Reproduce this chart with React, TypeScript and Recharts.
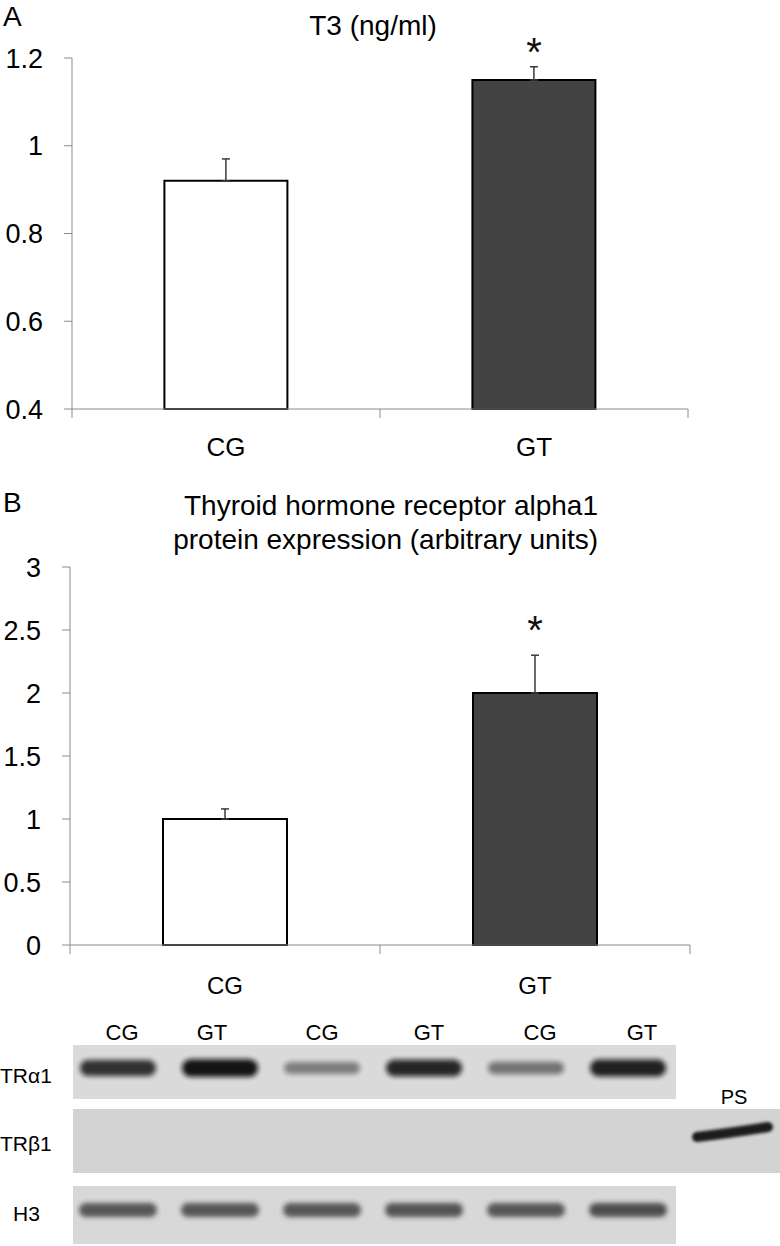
import { ComposedChart, Bar, Scatter, XAxis, YAxis, ErrorBar, Cell } from 'recharts';

// bar chart values
const groups = ['CG', 'GT'];
const barFills = ['#ffffff', '#434343'];

const t3Values = [0.92, 1.15];
const t3Errors = [0.05, 0.03];
const t3Significant = [false, true];
const t3Ticks = [0.4, 0.6, 0.8, 1, 1.2];

const tra1Values = [1.0, 2.0];
const tra1Errors = [0.08, 0.3];
const tra1Significant = [false, true];
const tra1Ticks = [0, 0.5, 1, 1.5, 2, 2.5, 3];

// western blot lanes (relative band darkness, 0..1)
const blotLanes = ['CG', 'GT', 'CG', 'GT', 'CG', 'GT'];
const tra1BandDarkness = [0.82, 0.97, 0.45, 0.88, 0.5, 0.9];
const h3BandDarkness = [0.74, 0.74, 0.74, 0.76, 0.74, 0.8];

const FONT = '"Liberation Sans", Arial, sans-serif';
const AXIS_GREY = '#8c8c8c';

// star sits on top of the error whisker; only drawn where sig is true
const buildRows = (values: number[], errors: number[], sig: boolean[]) =>
  groups.map((g, i) => ({
    group: g,
    value: values[i],
    err: [0, errors[i]],
    star: values[i] + errors[i],
    sig: sig[i],
  }));

function CategoryTick(props: any) {
  const { x, y, payload, index, bandHalf, labelDrop, fontSize } = props;
  const half = typeof payload?.offset === 'number' && payload.offset > 0 ? payload.offset : bandHalf;
  const top = y - 9;
  return (
    <g>
      <line x1={x - half} x2={x - half} y1={top} y2={y} stroke={AXIS_GREY} strokeWidth={1} />
      {index === groups.length - 1 && (
        <line x1={x + half} x2={x + half} y1={top} y2={y} stroke={AXIS_GREY} strokeWidth={1} />
      )}
      <text x={x} y={top + labelDrop} textAnchor="middle" dominantBaseline="central" fontSize={fontSize} fontFamily={FONT} fill="#000">
        {payload.value}
      </text>
    </g>
  );
}

function Star(props: any) {
  const { cx, cy, payload, gap } = props;
  if (!payload?.sig || !Number.isFinite(cx) || !Number.isFinite(cy)) return <g />;
  return (
    <text x={cx} y={cy - gap + 23} textAnchor="middle" fontSize={40} fontFamily={FONT} fill="#111">
      *
    </text>
  );
}

function PanelChart(props: {
  rows: any[];
  ticks: number[];
  domain: [number, number];
  width: number;
  height: number;
  margin: { top: number; right: number; left: number; bottom: number };
  yWidth: number;
  xHeight: number;
  labelDrop: number;
  labelSize: number;
  starGap: number;
}) {
  const { rows, ticks, domain, width, height, margin, yWidth, xHeight, labelDrop, labelSize, starGap } = props;
  const bandHalf = (width - margin.left - margin.right - yWidth) / groups.length / 2;
  return (
    <ComposedChart width={width} height={height} data={rows} margin={margin} barCategoryGap="30%">
      <XAxis
        dataKey="group"
        height={xHeight}
        axisLine={{ stroke: AXIS_GREY }}
        tickLine={false}
        tickSize={9}
        tickMargin={0}
        interval={0}
        tick={<CategoryTick bandHalf={bandHalf} labelDrop={labelDrop} fontSize={labelSize} />}
      />
      <YAxis
        type="number"
        domain={domain}
        ticks={ticks}
        width={yWidth}
        axisLine={{ stroke: AXIS_GREY }}
        tickLine={{ stroke: AXIS_GREY }}
        tickSize={8}
        tickMargin={21}
        tick={{ fill: '#000', fontSize: 27, fontFamily: FONT }}
      />
      <Bar dataKey="value" stroke="#000" strokeWidth={2} isAnimationActive={false}>
        {rows.map((r, i) => (
          <Cell key={r.group} fill={barFills[i]} />
        ))}
        <ErrorBar dataKey="err" direction="y" width={4} stroke="#3a3a3a" strokeWidth={1.5} isAnimationActive={false} />
      </Bar>
      <Scatter dataKey="star" isAnimationActive={false} shape={<Star gap={starGap} />} />
    </ComposedChart>
  );
}

function Blot() {
  const laneStart = 118;
  const laneStep = 102;
  const stripLeft = 73;
  const stripRight = 676;
  const labelX = [122, 212, 322, 429, 540, 642];
  return (
    <svg width={780} height={246} style={{ position: 'absolute', left: 0, top: 1000 }}>
      <defs>
        <filter id="bandBlur" x="-20%" y="-80%" width="140%" height="260%">
          <feGaussianBlur stdDeviation="2.6" />
        </filter>
        <filter id="psBlur" x="-20%" y="-80%" width="140%" height="260%">
          <feGaussianBlur stdDeviation="1.4" />
        </filter>
      </defs>
      {blotLanes.map((l, i) => (
        <text key={'lbl' + i} x={labelX[i]} y={32} textAnchor="middle" dominantBaseline="central" fontSize={22} fontFamily={FONT} fill="#000">
          {l}
        </text>
      ))}
      {/* TRa1 strip */}
      <rect x={stripLeft} y={45} width={stripRight - stripLeft} height={54} fill="#dadada" />
      {tra1BandDarkness.map((d, i) => {
        const cx = laneStart + i * laneStep;
        const h = 7 + 11 * d;
        return (
          <rect key={'a' + i} x={cx - 38} y={68 - h / 2} width={76} height={h} rx={h / 2}
            fill="#0e0e0e" opacity={d} filter="url(#bandBlur)" />
        );
      })}
      {/* TRb1 strip */}
      <rect x={stripLeft} y={109} width={780 - stripLeft} height={64} fill="#d3d3d3" />
      <path d="M 697 137 Q 730 133 768 127" stroke="#1a1a1a" strokeWidth={10} strokeLinecap="round" fill="none" filter="url(#psBlur)" />
      {/* H3 strip */}
      <rect x={stripLeft} y={186} width={stripRight - stripLeft} height={58} fill="#d8d8d8" />
      {h3BandDarkness.map((d, i) => {
        const cx = laneStart + i * laneStep;
        return (
          <rect key={'h' + i} x={cx - 39} y={210 - 7} width={78} height={14} rx={7}
            fill="#2a2a2a" opacity={d} filter="url(#bandBlur)" />
        );
      })}
      <text x={0} y={75} dominantBaseline="central" fontSize={21} fontFamily={FONT} fill="#000">TRα1</text>
      <text x={0} y={143} dominantBaseline="central" fontSize={21} fontFamily={FONT} fill="#000">TRβ1</text>
      <text x={13} y={213} dominantBaseline="central" fontSize={21} fontFamily={FONT} fill="#000">H3</text>
      <text x={734} y={97} textAnchor="middle" dominantBaseline="central" fontSize={20} fontFamily={FONT} fill="#000">PS</text>
    </svg>
  );
}

export default function App() {
  const t3Rows = buildRows(t3Values, t3Errors, t3Significant);
  const tra1Rows = buildRows(tra1Values, tra1Errors, tra1Significant);
  return (
    <div style={{ position: 'absolute', left: 0, top: 0, width: 780, height: 1246, background: '#fff', fontFamily: FONT, overflow: 'hidden' }}>
      <div style={{ position: 'absolute', left: 0, top: 0 }}>
        <PanelChart
          rows={t3Rows}
          ticks={t3Ticks}
          domain={[0.4, 1.2]}
          width={780}
          height={470}
          margin={{ top: 58, right: 92, left: 0, bottom: 0 }}
          yWidth={72}
          xHeight={61}
          labelDrop={38}
          labelSize={26}
          starGap={24}
        />
      </div>
      <div style={{ position: 'absolute', left: 0, top: 470 }}>
        <PanelChart
          rows={tra1Rows}
          ticks={tra1Ticks}
          domain={[0, 3]}
          width={780}
          height={530}
          margin={{ top: 97, right: 90, left: 0, bottom: 0 }}
          yWidth={70}
          xHeight={55}
          labelDrop={40}
          labelSize={24}
          starGap={34}
        />
      </div>
      <svg width={780} height={600} style={{ position: 'absolute', left: 0, top: 0, pointerEvents: 'none' }}>
        <text x={3} y={16} dominantBaseline="central" fontSize={28} fontFamily={FONT} fill="#000">A</text>
        <text x={373} y={25} textAnchor="middle" dominantBaseline="central" fontSize={28} fontFamily={FONT} fill="#000">T3 (ng/ml)</text>
        <text x={3} y={502} dominantBaseline="central" fontSize={28} fontFamily={FONT} fill="#000">B</text>
        <text x={598} y={505} textAnchor="end" dominantBaseline="central" fontSize={28} fontFamily={FONT} fill="#000">Thyroid hormone receptor alpha1</text>
        <text x={598} y={539} textAnchor="end" dominantBaseline="central" fontSize={28} fontFamily={FONT} fill="#000">protein expression (arbitrary units)</text>
      </svg>
      <Blot />
    </div>
  );
}
